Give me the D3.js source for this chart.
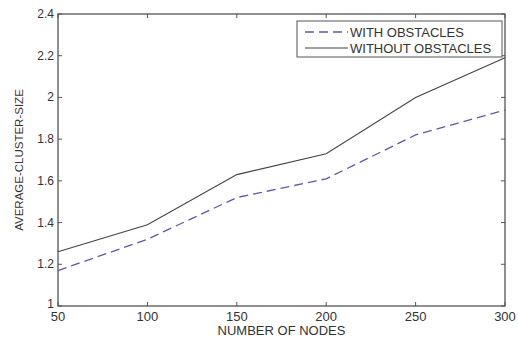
<!DOCTYPE html>
<html>
<head>
<meta charset="utf-8">
<script src="https://cdn.jsdelivr.net/npm/d3@7/dist/d3.min.js"></script>
<style>
  body { margin: 0; background: #fff; }
  text { font-family: "Liberation Sans", Arial, sans-serif; fill: #333; }
</style>
</head>
<body>
<div id="chart"></div>
<script>
// 数据
const nodes = [50, 100, 150, 200, 250, 300];
const withObstacles = [1.17, 1.32, 1.52, 1.61, 1.82, 1.94];
const withoutObstacles = [1.26, 1.39, 1.63, 1.73, 2.0, 2.19];
const xTicks = [50, 100, 150, 200, 250, 300];
const yTicks = [1, 1.2, 1.4, 1.6, 1.8, 2, 2.2, 2.4];

const width = 518, height = 340;
const margin = { left: 58, top: 14, right: 13, bottom: 34 };

const svg = d3.select('#chart').append('svg')
    .attr('width', width)
    .attr('height', height);

const x = d3.scaleLinear().domain([50, 300]).range([margin.left, width - margin.right]);
const y = d3.scaleLinear().domain([1, 2.4]).range([height - margin.bottom, margin.top]);

const axisColor = '#555';

// 边框
svg.append('rect')
    .attr('x', x(50)).attr('y', y(2.4))
    .attr('width', x(300) - x(50)).attr('height', y(1) - y(2.4))
    .attr('fill', 'none').attr('stroke', axisColor).attr('stroke-width', 1.3);

// 刻度 (向内)
const tickLen = 4;
const tg = svg.append('g').attr('stroke', axisColor).attr('stroke-width', 1);
xTicks.forEach(t => {
    tg.append('line').attr('x1', x(t)).attr('x2', x(t)).attr('y1', y(1)).attr('y2', y(1) - tickLen);
    tg.append('line').attr('x1', x(t)).attr('x2', x(t)).attr('y1', y(2.4)).attr('y2', y(2.4) + tickLen);
});
yTicks.forEach(t => {
    tg.append('line').attr('x1', x(50)).attr('x2', x(50) + tickLen).attr('y1', y(t)).attr('y2', y(t));
    tg.append('line').attr('x1', x(300)).attr('x2', x(300) - tickLen).attr('y1', y(t)).attr('y2', y(t));
});

// 刻度标签
svg.append('g').selectAll('text').data(xTicks).enter().append('text')
    .attr('x', d => x(d)).attr('y', y(1) + 15)
    .attr('text-anchor', 'middle').attr('font-size', 13)
    .text(d => d);
svg.append('g').selectAll('text').data(yTicks).enter().append('text')
    .attr('x', x(50) - 4).attr('y', d => y(d) + (d === 1 ? 2 : 4))
    .attr('text-anchor', 'end').attr('font-size', 12)
    .text(d => d);

// 轴标题
svg.append('text')
    .attr('x', (x(50) + x(300)) / 2).attr('y', height - 5)
    .attr('text-anchor', 'middle').attr('font-size', 13)
    .text('NUMBER OF NODES');
svg.append('text')
    .attr('transform', `translate(23, ${(y(1) + y(2.4)) / 2}) rotate(-90)`)
    .attr('text-anchor', 'middle').attr('font-size', 11.5)
    .text('AVERAGE-CLUSTER-SIZE');

// 曲线
const line = d3.line().x((d, i) => x(nodes[i])).y(d => y(d));
svg.append('path').datum(withObstacles)
    .attr('d', line).attr('fill', 'none')
    .attr('stroke', '#5a5aa8').attr('stroke-width', 1.3)
    .attr('stroke-dasharray', '9,5');
svg.append('path').datum(withoutObstacles)
    .attr('d', line).attr('fill', 'none')
    .attr('stroke', '#444').attr('stroke-width', 1.1);

// 图例
const lg = svg.append('g').attr('transform', 'translate(297, 21)');
lg.append('rect').attr('width', 205).attr('height', 36)
    .attr('fill', '#fff').attr('stroke', axisColor).attr('stroke-width', 1);
lg.append('line').attr('x1', 8).attr('x2', 51).attr('y1', 11).attr('y2', 11)
    .attr('stroke', '#5a5aa8').attr('stroke-width', 1.3).attr('stroke-dasharray', '9,5');
lg.append('line').attr('x1', 8).attr('x2', 51).attr('y1', 27).attr('y2', 27)
    .attr('stroke', '#444').attr('stroke-width', 1.1);
lg.append('text').attr('x', 53).attr('y', 15.5).attr('font-size', 13).text('WITH OBSTACLES');
lg.append('text').attr('x', 53).attr('y', 31.5).attr('font-size', 13).text('WITHOUT OBSTACLES');
</script>
</body>
</html>
